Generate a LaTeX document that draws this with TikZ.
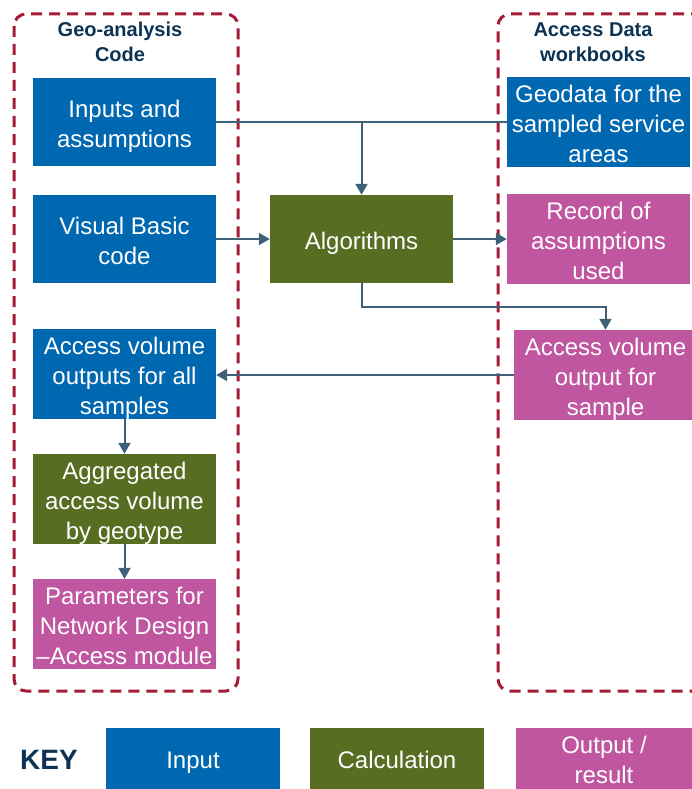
\documentclass[tikz,border=0pt]{standalone}
\usepackage{fontspec}
\setmainfont{Liberation Sans}
\usetikzlibrary{arrows.meta}
\definecolor{inblue}{HTML}{0067B1}
\definecolor{calcgreen}{HTML}{566D22}
\definecolor{outpink}{HTML}{C055A0}
\definecolor{groupred}{HTML}{A51C36}
\definecolor{titlenavy}{HTML}{0C3353}
\definecolor{linkc}{HTML}{3E6079}
% box text: fixed 30pt line boxes (25pt above the baseline, 5pt below)
\newcommand\boxlines[1]{\rule{0pt}{25pt}#1\rule[-5pt]{0pt}{5pt}}
\begin{document}
\begin{tikzpicture}[x=1pt,y=-1pt,
  boxtext/.style={inner sep=0pt, text=white, align=center,
    font=\fontsize{24}{30}\selectfont},
  box/.style={boxtext, minimum width=183pt, minimum height=88pt},
  inbox/.style={box, fill=inblue},
  calcbox/.style={box, fill=calcgreen},
  outbox/.style={box, fill=outpink},
  keybox/.style={boxtext, minimum width=174pt, minimum height=61pt},
  group/.style={draw=groupred, line width=3pt, dash pattern=on 11pt off 7pt,
    rounded corners=12pt},
  grouptitle/.style={text=titlenavy, align=center,
    font=\fontsize{20}{24.5}\selectfont\bfseries},
  link/.style={draw=linkc, line width=2pt},
  arr/.style={link, -{Triangle[length=11pt,width=12pt]}}]
\useasboundingbox (0,0) rectangle (692,789);
\clip (0,0) rectangle (692,789);

% groups
\draw[group] (14,14) rectangle (238,691);
\draw[group] (720,14) -- (498,14) -- (498,691) -- (720,691);
\node[grouptitle] (geotitle) at (120,42) {Geo-analysis\\Code};
\node[grouptitle] (acctitle) at (593,42) {Access Data\\workbooks};

% process boxes
\node[inbox] (inputs) at (124.5,122) {\boxlines{Inputs and\\assumptions}};
\node[inbox] (geodata) at (598.5,122) {\boxlines{Geodata for the\\sampled service\\areas}};
\node[inbox] (vbcode) at (124.5,239) {\boxlines{Visual Basic\\code}};
\node[calcbox] (algo) at (361.5,239) {\boxlines{Algorithms}};
\node[outbox] (record) at (598.5,239) {\boxlines{Record of\\assumptions\\used}};
\node[inbox] (allsamp) at (124.5,374) {\boxlines{Access volume\\outputs for all\\samples}};
\node[outbox] (sample) at (605.5,375) {\boxlines{Access volume\\output for\\sample}};
\node[calcbox] (agg) at (124.5,499) {\boxlines{Aggregated\\access volume\\by geotype}};
\node[outbox] (params) at (124.5,624) {\boxlines{Parameters for\\Network Design\\--Access module}};

% connectors
\draw[link] (inputs.east) -- (geodata.west);
\draw[arr] (algo.north |- inputs.east) -- (algo.north);
\draw[arr] (vbcode.east) -- (algo.west);
\draw[arr] (algo.east) -- (record.west);
\coordinate (drop) at (361.5,307);
\draw[arr] (algo.south) -- (drop) -| (sample.north);
\draw[arr] (sample.west) -- (sample.west -| allsamp.east);
\draw[arr] (allsamp.south) -- (agg.north);
\draw[arr] (agg.south) -- (params.north);

% key
\node[text=titlenavy, font=\fontsize{28}{32}\selectfont\bfseries] (keylbl) at (49,760) {KEY};
\node[keybox, fill=inblue] (keyin) at (193,758.5) {\boxlines{Input}};
\node[keybox, fill=calcgreen] (keycalc) at (397,758.5) {\boxlines{Calculation}};
\node[keybox, fill=outpink, minimum width=176pt] (keyout) at (604,758.5) {\boxlines{Output /\\result}};
\end{tikzpicture}
\end{document}
